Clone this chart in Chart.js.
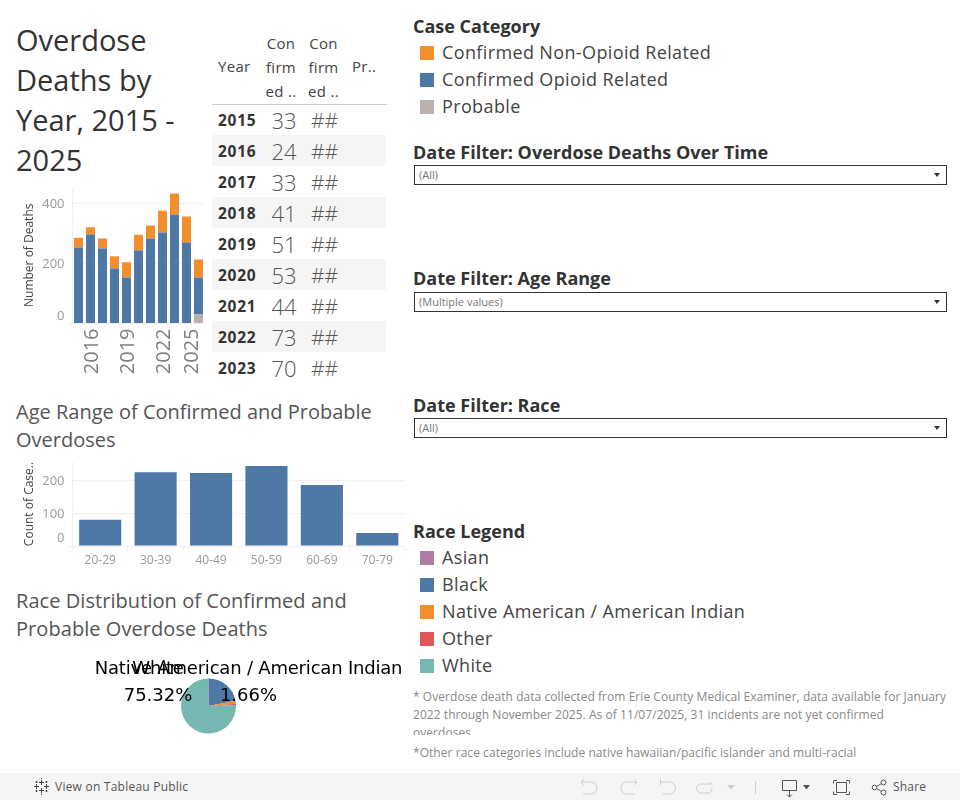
<!DOCTYPE html>
<html><head><meta charset="utf-8">
<script src="https://cdn.jsdelivr.net/npm/chart.js@4"></script>
<style>
html,body{margin:0;padding:0;background:#fff;overflow:hidden}
body{width:960px;height:800px;position:relative;font-family:"Open Sans",sans-serif;color:#333}
.a{position:absolute;white-space:nowrap}
canvas{position:absolute;z-index:2}
#title{left:16px;top:20px;font-size:29px;line-height:40px;color:#333}
.sec{left:16px;font-size:20px;line-height:28px;color:#555}
.h{left:413px;font-size:18px;font-weight:700;line-height:24px;color:#333}
.sw{left:420px;width:14px;height:14px}
.li{left:442px;font-size:18px;line-height:24px;color:#444;letter-spacing:.37px}
.dd{left:414px;width:531px;height:18px;border:1px solid #333;background:#fff;font-size:11px;line-height:18px;color:#777;text-indent:4px}
.dd:after{content:"";position:absolute;right:6px;top:7px;border-left:3px solid transparent;border-right:3px solid transparent;border-top:4px solid #333}
.n{left:413px;font-size:12px;line-height:18px;color:#888;letter-spacing:.05px}
#tb{left:0;top:773px;width:960px;height:27px;background:#f5f5f5}
.c{transform:translateX(-50%);text-align:center}
.th{font-size:15px;line-height:20px;color:#444;letter-spacing:.3px}
</style></head><body>
<div class="a" id="title">Overdose<br>Deaths by<br>Year, 2015 -<br>2025</div>
<div class="a sec" style="top:398px">Age Range of Confirmed and Probable<br>Overdoses</div>
<div class="a sec" style="top:587px;letter-spacing:.06px">Race Distribution of Confirmed and<br>Probable Overdose Deaths</div>
<div id="table"></div>
<canvas id="c1" width="212" height="200" style="left:0;top:180px"></canvas>
<canvas id="c2" width="410" height="120" style="left:0;top:455px"></canvas>
<canvas id="c3" width="417" height="112" style="left:0;top:650px"></canvas>
<div id="right"></div>
<div class="a n" style="top:688px;height:47px;overflow:hidden">* Overdose death data collected from Erie County Medical Examiner, data available for January<br>2022 through November 2025. As of 11/07/2025, 31 incidents are not yet confirmed<br>overdoses</div>
<div class="a n" style="top:744px">*Other race categories include native hawaiian/pacific islander and multi-racial</div>
<div class="a" id="tb"></div>
<div class="a" style="left:55px;top:779px;font-size:12px;line-height:16px;color:#555;letter-spacing:.23px">View on Tableau Public</div>
<div class="a" style="left:893px;top:779px;font-size:12px;line-height:16px;color:#555;letter-spacing:.2px">Share</div>
<svg class="a" style="left:0;top:773px" width="960" height="27" fill="none" stroke="#999" stroke-width="1">
<g stroke="#444"><path d="M41.500 7v5M39 9.500h5M41.500 15v5M39 17.500h5M34 13.500h5M36.500 11v5M44 13.500h5M46.500 11v5M41.500 5v1M41.500 21v1"/><path d="M36.500 8v2M35.500 9h2M46.500 8v2M45.500 9h2M36.500 17v2M35.500 18h2M46.500 17v2M45.500 18h2"/></g>
<g stroke="#ccc"><path d="M581 9h10a5.500 5.500 0 0 1 0 12h-8M581 9l3-3M581 9l3 3"/><path d="M637 9h-10a5.500 5.500 0 0 0 0 12h8M637 9l-3-3M637 9l-3 3"/><path d="M660.500 6v6M660.500 9h9a5.500 5.500 0 0 1 0 12h-7"/><path d="M712 11h-11a4.500 4.500 0 0 0 0 9h6a4.500 4.500 0 0 0 5-5M712 11l-3-2"/><path d="M755.500 8v13"/></g>
<path d="M782.500 7.500h14v10h-14zM789.500 17.500v6M787 21.500l2.500 2.500 2.500-2.500" stroke="#555"/>
<path d="M837 7.500h-3.500v3M846 7.500h3.500v3M837 21.500h-3.500v-3M846 21.500h3.500v-3M836.500 9.500h10v10h-10z" stroke="#555"/>
<g stroke="#555"><circle cx="874.500" cy="14.500" r="2.300"/><circle cx="883.500" cy="9.500" r="2.500"/><circle cx="883.500" cy="19.500" r="2.500"/><path d="M876.500 13.500l5-3M876.500 15.500l5 3"/></g>
<path d="M727 12h8l-4 4.500z" stroke="none" fill="#ccc"/><path d="M803 12h7l-3.500 4.500z" stroke="none" fill="#555"/>
</svg>
<script>
const years=['2015','2016','2017','2018','2019','2020','2021','2022','2023','2024','2025'];
const yearTicks=['2016','2019','2022','2025'];
const deathTicks=[0,200,400];
const nonOpioid=[33,24,33,41,51,53,44,73,70,87,60];
const opioid=[253,297,250,183,153,243,283,303,363,270,122];
const probable=[0,0,0,0,0,0,0,0,0,0,31];
const tableYears=['2015','2016','2017','2018','2019','2020','2021','2022','2023'];
const tableCol1=['33','24','33','41','51','53','44','73','70'];
const tableCol2=['##','##','##','##','##','##','##','##','##'];
const ageRanges=['20-29','30-39','40-49','50-59','60-69','70-79'];
const ageTicks=[0,100,200];
const ageCounts=[80,226,223,245,187,40];
const raceNames=['Black','Native American / American Indian','Other','White','Asian'];
const raceShares=[22,1.66,0.7,75.32,0.32];
const raceLabelled=['Native American / American Indian','White'];
const caseLegend=[['Confirmed Non-Opioid Related','#f28e2b'],['Confirmed Opioid Related','#4e79a7'],['Probable','#bab0ac']];
const raceLegend=[['Asian','#b07aa1'],['Black','#4e79a7'],['Native American / American Indian','#f28e2b'],['Other','#e15759'],['White','#76b7b2']];
const raceColors=['#4e79a7','#f28e2b','#e15759','#76b7b2','#b07aa1'];

const FONT='"Open Sans",sans-serif';
function add(parent,cls,style,text){const d=document.createElement('div');d.className=cls;d.style.cssText=style;if(text!=null)d.textContent=text;parent.appendChild(d);return d;}
// table
const T=document.getElementById('table');
add(T,'a th','left:218px;top:56px','Year');
[281,323.5].forEach(x=>{['Con','firm','ed ..'].forEach((t,i)=>add(T,'a c th',`left:${x}px;top:${33+i*24}px`,t));});
add(T,'a th','left:352px;top:56px','Pr..');
add(T,'a','left:212px;top:104px;width:175px;height:1px;background:#ccc');
tableYears.forEach((y,i)=>{
  const top=104+i*31;
  if(i%2)add(T,'a',`left:212px;top:${top}px;width:174px;height:31px;background:#f5f5f5`);
  add(T,'a',`left:218px;top:${top+1}px;font-size:15.5px;letter-spacing:.7px;font-weight:700;line-height:31px;color:#333`,y);
  add(T,'a c',`left:284px;top:${top+1}px;font-size:22px;font-weight:300;line-height:31px;color:#555`,tableCol1[i]);
  add(T,'a c',`left:324.500px;top:${top+1}px;font-size:21px;font-weight:300;line-height:31px;color:#555`,tableCol2[i]);
});
// right column
const R=document.getElementById('right');
add(R,'a h','top:14px','Case Category');
caseLegend.forEach((e,i)=>{add(R,'a sw',`top:${46+i*27}px;background:${e[1]}`);add(R,'a li',`top:${40+i*27}px`,e[0]);});
[['Date Filter: Overdose Deaths Over Time',140,165,'(All)'],['Date Filter: Age Range',266,292,'(Multiple values)'],['Date Filter: Race',393,418,'(All)']].forEach(f=>{
  add(R,'a h',`top:${f[1]}px`,f[0]);add(R,'a dd',`top:${f[2]}px`,f[3]);});
add(R,'a h','top:519px','Race Legend');
raceLegend.forEach((e,i)=>{add(R,'a sw',`top:${551+i*27}px;background:${e[1]}`);add(R,'a li',`top:${545+i*27}px`,e[0]);});

Chart.defaults.animation=false;
Chart.defaults.responsive=false;
Chart.defaults.font.family=FONT;
const GRID='#f0f0f0';
// nudge named labels as Tableau does at the plot edges
const nudge={id:'nudge',beforeDraw(c,a,o){
  for(const id of ['x','y']){const s=c.scales[id];if(!s)continue;const items=s.getLabelItems();
    if(items._n)continue;items._n=1;
    items.forEach(it=>{const d=(o[id]||{})[it.label];if(d){it.options.translation=[it.options.translation[0]+(d[0]||0),it.options.translation[1]+(d[1]||0)];}});}
}};
function noPad(s){s.paddingLeft=s.paddingRight=s.paddingTop=s.paddingBottom=0;}
function yAxis(title,max,tickValues,width){return{
  min:0,max,stacked:true,
  afterFit:s=>{s.width=width;noPad(s);},
  afterBuildTicks:s=>{s.ticks=tickValues.map(value=>({value}));},
  border:{color:GRID,display:true},
  grid:{color:GRID,tickColor:c=>c.tick&&c.tick.value===0?GRID:'transparent',tickLength:5},
  ticks:{color:'#999',font:{size:13},padding:3,autoSkip:false,callback:v=>v},
  title:{display:true,text:title,color:'#444',font:{size:12},padding:{top:0,bottom:0}}
};}
new Chart(document.getElementById('c1'),{type:'bar',plugins:[nudge],
 data:{labels:years,datasets:[
  {label:'Probable',data:probable,backgroundColor:'#bab0ac'},
  {label:'Confirmed Opioid Related',data:opioid,backgroundColor:'#4e79a7'},
  {label:'Confirmed Non-Opioid Related',data:nonOpioid,backgroundColor:'#f28e2b'}]},
 options:{layout:{padding:{left:22,right:7.5,top:7,bottom:0}},
  barPercentage:0.75,categoryPercentage:1,
  plugins:{legend:{display:false},tooltip:{enabled:false},
   nudge:{x:{'2016':[2,0],'2019':[2,0],'2022':[2,0],'2025':[-6,0]},y:{'0':[0,-7],'200':[0,1],'400':[0,1]}}},
  scales:{
   x:{stacked:true,border:{display:false},grid:{display:false,tickLength:5},
      afterFit:s=>{s.height=56.5;noPad(s);},
      ticks:{color:'#808080',font:{size:20},maxRotation:90,minRotation:90,autoSkip:false,padding:0,
             callback(v){const l=this.getLabelForValue(v);return yearTicks.includes(l)?l:'';}}},
   y:yAxis('Number of Deaths',455,deathTicks,50.5)}}});
new Chart(document.getElementById('c2'),{type:'bar',plugins:[nudge],
 data:{labels:ageRanges,datasets:[{label:'Count of Cases',data:ageCounts,backgroundColor:'#4e79a7'}]},
 options:{layout:{padding:{left:22,right:5,top:7,bottom:0}},
  barPercentage:0.76,categoryPercentage:1,
  plugins:{legend:{display:false},tooltip:{enabled:false},nudge:{y:{'0':[0,-8],'100':[0,1],'200':[0,1]}}},
  scales:{
   x:{border:{display:false},grid:{drawOnChartArea:false,color:GRID,tickLength:5,offset:true},
      afterFit:s=>{s.height=29;noPad(s);},
      ticks:{color:'#999',font:{size:12},maxRotation:0,padding:2}},
   y:yAxis('Count of Case..',257,ageTicks,50.5)}}});
// pie
const pieLabels={id:'pieLabels',afterDraw(c,a,o){
  const ctx=c.ctx,arcs=c.getDatasetMeta(0).data;
  ctx.save();ctx.fillStyle='#000';ctx.textAlign='center';ctx.textBaseline='middle';ctx.font='18px "DejaVu Sans",sans-serif';
  raceLabelled.forEach(name=>{const i=raceNames.indexOf(name),p=arcs[i],d=o.shift[name];
    ctx.letterSpacing='-0.2px';ctx.fillText(name,p.x+d[0],p.y+d[1]);
    ctx.letterSpacing='0px';ctx.fillText(raceShares[i].toFixed(2)+'%',p.x+d[0],p.y+d[1]+27);});
  ctx.restore();
}};
new Chart(document.getElementById('c3'),{type:'pie',plugins:[pieLabels],
 data:{labels:raceNames,datasets:[{data:raceShares,backgroundColor:raceColors,borderWidth:0}]},
 options:{radius:27.5,layout:{padding:0},
  plugins:{legend:{display:false},tooltip:{enabled:false},
  pieLabels:{shift:{'Native American / American Indian':[40,-37],'White':[-50.5,-37]}}}}});
</script>
</body></html>
